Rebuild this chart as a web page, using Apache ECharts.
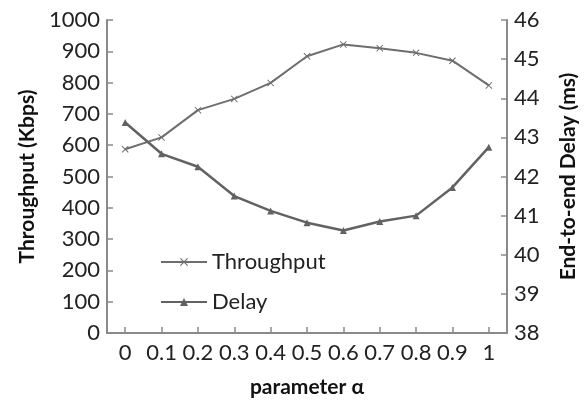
<!DOCTYPE html>
<html><head><meta charset="utf-8">
<script src="https://cdn.jsdelivr.net/npm/echarts@6/dist/echarts.min.js"></script>
<style>html,body{margin:0;padding:0;background:#fff}#c{width:587px;height:403px}</style>
</head><body><div id="c"></div>
<script>
const categories = ['0','0.1','0.2','0.3','0.4','0.5','0.6','0.7','0.8','0.9','1'];
const throughput = [587, 625, 712, 748, 799, 884, 922, 910, 895, 870, 791];
const delay = [43.38, 42.58, 42.25, 41.5, 41.12, 40.82, 40.62, 40.85, 41.0, 41.72, 42.75];
const leftTicks = {min: 0, max: 1000, interval: 100};
const rightTicks = {min: 38, max: 46, interval: 1};

const FONT = 'Lato';
const axisColor = '#8a8a8a';
const xPath = 'path://M0,1 L1,0 L5,4 L9,0 L10,1 L6,5 L10,9 L9,10 L5,6 L1,10 L0,9 L4,5 Z';
const chart = echarts.init(document.getElementById('c'), null, {renderer: 'canvas'});
const yCommon = {
  type: 'value',
  splitLine: {show: false},
  axisLine: {show: true, lineStyle: {color: axisColor, width: 2}},
  axisTick: {show: true, inside: true, length: 6, lineStyle: {color: axisColor, width: 1.5}},
  axisLabel: {color: '#222', fontFamily: FONT, fontSize: 22, margin: 7, formatter: function (v) { return String(v); }},
  nameLocation: 'middle',
  nameRotate: 90,
  nameTextStyle: {color: '#111', fontFamily: FONT, fontSize: 21, fontWeight: 'bold'}
};
chart.setOption({
  animation: false,
  grid: {left: 107, right: 72, top: 20, bottom: 66, containLabel: false},
  legend: {
    orient: 'vertical', left: 155, top: 246, itemWidth: 46, itemHeight: 10, itemGap: 18,
    textStyle: {color: '#222', fontFamily: FONT, fontSize: 22},
    data: ['Throughput', 'Delay']
  },
  xAxis: {
    type: 'category', data: categories, boundaryGap: true,
    name: 'parameter α', nameLocation: 'middle', nameGap: 44,
    nameTextStyle: {color: '#111', fontFamily: FONT, fontSize: 21, fontWeight: 'bold'},
    axisLine: {show: true, lineStyle: {color: axisColor, width: 2}},
    axisTick: {show: true, inside: true, alignWithLabel: true, length: 6, lineStyle: {color: axisColor, width: 1.5}},
    axisLabel: {color: '#222', fontFamily: FONT, fontSize: 22, interval: 0, margin: 9}
  },
  yAxis: [
    Object.assign({}, yCommon, leftTicks, {name: 'Throughput (Kbps)', nameGap: 67, position: 'left'}),
    Object.assign({}, yCommon, rightTicks, {name: 'End-to-end Delay (ms)', nameGap: 51, position: 'right'})
  ],
  series: [
    {
      name: 'Throughput', type: 'line', yAxisIndex: 0, data: throughput,
      symbol: xPath, symbolSize: 7, showSymbol: true,
      lineStyle: {color: '#6e6e6e', width: 2},
      itemStyle: {color: '#6e6e6e'}
    },
    {
      name: 'Delay', type: 'line', yAxisIndex: 1, data: delay,
      symbol: 'triangle', symbolSize: 7, showSymbol: true,
      lineStyle: {color: '#626262', width: 2.5},
      itemStyle: {color: '#626262'}
    }
  ]
});
</script></body></html>
